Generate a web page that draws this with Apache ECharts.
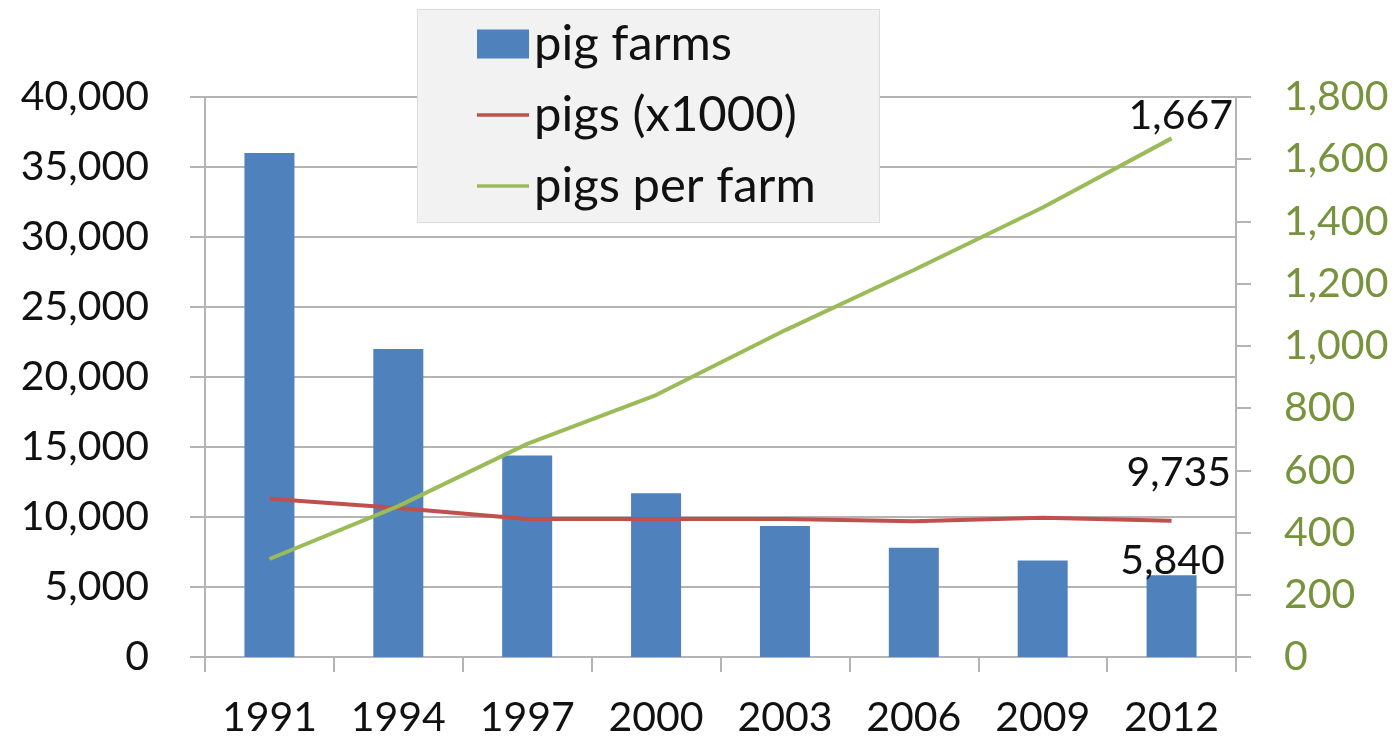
<!DOCTYPE html>
<html>
<head>
<meta charset="utf-8">
<script src="https://cdn.jsdelivr.net/npm/echarts@6/dist/echarts.min.js"></script>
<style>
html,body{margin:0;padding:0;background:#fff;}
#chart{width:1395px;height:738px;}
</style>
</head>
<body>
<div id="chart"></div>
<script>
const years = ['1991','1994','1997','2000','2003','2006','2009','2012'];
const pigFarms = [36000, 22000, 14400, 11700, 9350, 7800, 6900, 5840];
const pigsX1000 = [11300, 10650, 9850, 9850, 9850, 9700, 9950, 9735];
const pigsPerFarm = [315, 485, 685, 842, 1050, 1244, 1445, 1667];
const leftTicks = {min: 0, max: 40000, interval: 5000};
const rightTicks = {min: 0, max: 1800, interval: 200};

const FONT = 'Lato';
const gridColor = '#b4b4b4';
const fmt = v => Number(v).toLocaleString('en-US');

function withLastLabel(arr, label) {
  return arr.map((v, i) => i === arr.length - 1 ? {value: v, label: Object.assign({show: true}, label)} : v);
}

const lineIcon = 'path://M0,0 L52,0 L52,3.5 L0,3.5 Z';

const chart = echarts.init(document.getElementById('chart'), null, {renderer: 'canvas'});
chart.setOption({
  animation: false,
  backgroundColor: '#ffffff',
  textStyle: {fontFamily: FONT},
  grid: {left: 205, right: 159, top: 97, bottom: 81, containLabel: false},
  graphic: [{
    type: 'rect', z: 5, left: 417, top: 9,
    shape: {width: 462, height: 213},
    style: {fill: '#f2f2f2', stroke: '#dcdcdc', lineWidth: 1}
  }],
  legend: {
    z: 6,
    orient: 'vertical',
    left: 417, top: 9,
    padding: [10, 0, 0, 60],
    itemWidth: 52, itemHeight: 29,
    itemGap: 21,
    itemTextGap: 6,
    symbolKeepAspect: true,
    itemStyle: {borderWidth: 0},
    textStyle: {fontFamily: FONT, fontSize: 49, color: '#111', lineHeight: 50},
    data: [
      {name: 'pig farms', icon: 'rect'},
      {name: 'pigs (x1000)', icon: lineIcon},
      {name: 'pigs per farm', icon: lineIcon}
    ]
  },
  xAxis: {
    type: 'category',
    data: years,
    boundaryGap: true,
    axisLine: {show: true, lineStyle: {color: gridColor, width: 2}},
    axisTick: {show: true, length: 15, lineStyle: {color: gridColor, width: 2}},
    axisLabel: {fontFamily: FONT, fontSize: 41, color: '#111', margin: 40}
  },
  yAxis: [{
    type: 'value',
    min: leftTicks.min, max: leftTicks.max, interval: leftTicks.interval,
    axisLine: {show: true, lineStyle: {color: gridColor, width: 2}},
    axisTick: {show: true, length: 15, lineStyle: {color: gridColor, width: 2}},
    splitLine: {show: true, lineStyle: {color: gridColor, width: 2}},
    axisLabel: {fontFamily: FONT, fontSize: 41, color: '#111', margin: 56, formatter: fmt}
  }, {
    type: 'value',
    position: 'right',
    min: rightTicks.min, max: rightTicks.max, interval: rightTicks.interval,
    axisLine: {show: true, lineStyle: {color: gridColor, width: 2}},
    axisTick: {show: true, length: 15, lineStyle: {color: gridColor, width: 2}},
    splitLine: {show: false},
    axisLabel: {fontFamily: FONT, fontSize: 41, color: '#77933c', margin: 48, formatter: fmt}
  }],
  series: [{
    name: 'pig farms',
    type: 'bar',
    yAxisIndex: 0,
    barWidth: 50,
    itemStyle: {color: '#4f81bd'},
    z: 2,
    data: withLastLabel(pigFarms, {position: 'top', distance: 0, offset: [1, 6], fontFamily: FONT, fontSize: 41, color: '#111', formatter: p => fmt(p.value)})
  }, {
    name: 'pigs (x1000)',
    type: 'line',
    yAxisIndex: 0,
    symbol: 'none',
    lineStyle: {color: '#c0504d', width: 4},
    itemStyle: {color: '#c0504d'},
    z: 3,
    endLabel: {show: true, distance: 5, offset: [-50, -48], fontFamily: FONT, fontSize: 41, lineHeight: 40, color: '#111', formatter: p => fmt(p.value)},
    data: pigsX1000
  }, {
    name: 'pigs per farm',
    type: 'line',
    yAxisIndex: 1,
    symbol: 'none',
    lineStyle: {color: '#9bbb59', width: 4},
    itemStyle: {color: '#9bbb59'},
    z: 4,
    endLabel: {show: true, distance: 5, offset: [-48, -23], fontFamily: FONT, fontSize: 41, lineHeight: 40, color: '#111', formatter: p => fmt(p.value)},
    data: pigsPerFarm
  }]
});
</script>
</body>
</html>
